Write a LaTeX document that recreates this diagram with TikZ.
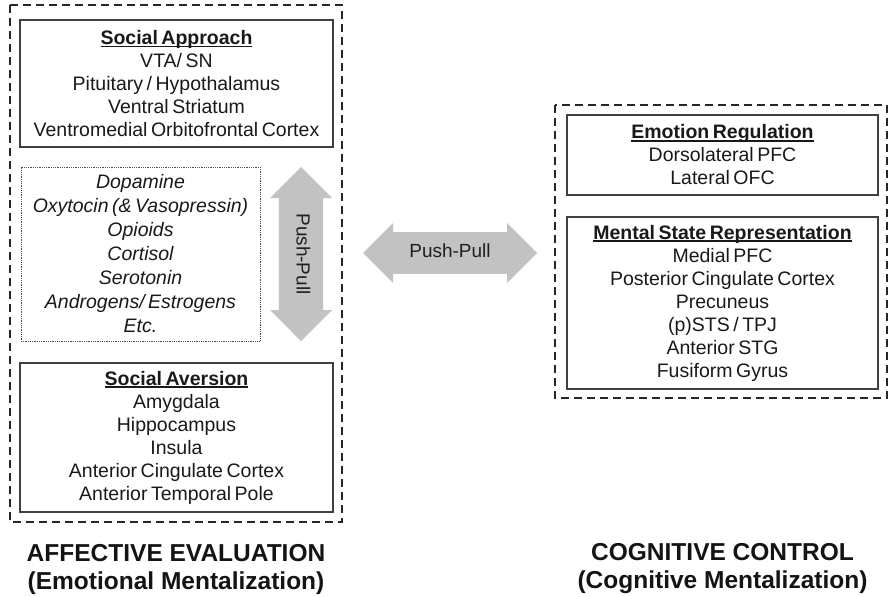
\documentclass[tikz,border=0pt]{standalone}
\usepackage{fontspec}
\setmainfont[WordSpace=0.65]{Liberation Sans}
\newfontfamily\captionfont{Liberation Sans}
\usetikzlibrary{shapes.arrows}

% bold title with a rule set close under its baseline
\newcommand{\boxtitle}[1]{%
  \setbox0\hbox{\textbf{#1}}%
  \rlap{\rule[-2.6pt]{\wd0}{1.3pt}}\box0}

\tikzset{
  group/.style={draw=black!85, line width=1.7pt, dash pattern=on 8pt off 5pt},
  region/.style={draw=black!75, line width=1.1pt, align=center, inner sep=0pt,
    text=black!90, font=\fontsize{19.5}{23}\selectfont},
  chem/.style={draw=black!70, line width=0.8pt, densely dotted, align=center, inner sep=0pt,
    text=black!90, font=\fontsize{19.5}{24}\selectfont\itshape},
  pushpull/.style={double arrow, double arrow tip angle=90, fill=black!24, draw=none,
    inner xsep=0pt, inner ysep=0pt, text height=13pt, text depth=4pt,
    text=black!88, font=\fontsize{19}{21}\selectfont},
  caption/.style={align=center, text=black!92, font=\captionfont\fontsize{24.5}{28}\selectfont\bfseries}
}

\begin{document}
\begin{tikzpicture}[x=1pt, y=-1pt]
\useasboundingbox (0,0) rectangle (889,597);

% affective evaluation group
\draw[group] (10,5) rectangle (342,522);
\node[region, minimum width=313pt, minimum height=127pt] (approach) at (176.5,83.5)
  {\boxtitle{Social Approach}\\ VTA/ SN\\ Pituitary / Hypothalamus\\ Ventral Striatum\\ Ventromedial Orbitofrontal Cortex};
\node[chem, minimum width=239pt, minimum height=174pt] (chem) at (140.5,254)
  {Dopamine\\ Oxytocin (\& Vasopressin)\\ Opioids\\ Cortisol\\ Serotonin\\ Androgens/ Estrogens\\ Etc.};
\node[pushpull, rotate=-90, minimum height=174pt, minimum width=62pt, inner ysep=9pt] (vpp) at (301,254) {Push-Pull};
\node[region, minimum width=313pt, minimum height=149pt] (aversion) at (176.5,437.5)
  {\boxtitle{Social Aversion}\\ Amygdala\\ Hippocampus\\ Insula\\ Anterior Cingulate Cortex\\ Anterior Temporal Pole};
\node[caption] (affective) at (176,569) {AFFECTIVE EVALUATION\\ (Emotional Mentalization)};

% cognitive control group
\draw[group] (555,105) rectangle (887,398);
\node[region, minimum width=311pt, minimum height=80pt] (regulation) at (722.5,155)
  {\boxtitle{Emotion Regulation}\\ Dorsolateral PFC\\ Lateral OFC};
\node[region, minimum width=311pt, minimum height=172pt] (mental) at (722.5,303)
  {\boxtitle{Mental State Representation}\\ Medial PFC\\ Posterior Cingulate Cortex\\ Precuneus\\ (p)STS / TPJ\\ Anterior STG\\ Fusiform Gyrus};
\node[caption] (cognitive) at (722.5,569) {COGNITIVE CONTROL\\ (Cognitive Mentalization)};

% interaction between the two systems
\node[pushpull, minimum height=174pt, minimum width=60pt, inner ysep=7.5pt] (hpp) at (450,253) {Push-Pull};
\end{tikzpicture}
\end{document}
